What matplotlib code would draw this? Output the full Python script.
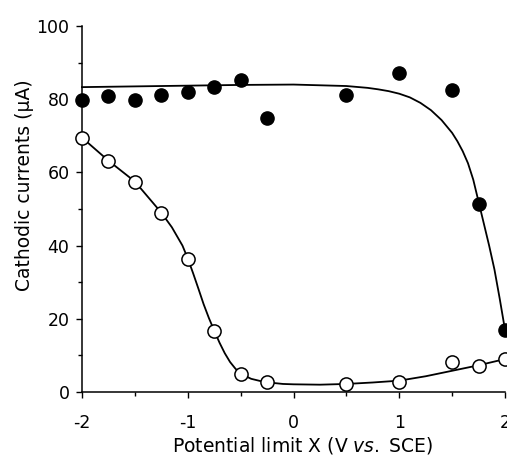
import matplotlib
matplotlib.use("Agg")
import matplotlib.pyplot as plt
from matplotlib.ticker import MultipleLocator

plt.rcParams['font.family'] = ['DejaVu Sans']

# Filled circles (data)
x_filled = [-2.0, -1.75, -1.5, -1.25, -1.0, -0.75, -0.5, -0.25, 0.5, 1.0, 1.5, 1.75, 2.0]
y_filled = [79.8, 80.9, 79.8, 81.1, 82.1, 83.2, 85.2, 74.8, 81.1, 87.2, 82.5, 51.5, 16.9]

# Open circles (data)
x_open = [-2.0, -1.75, -1.5, -1.25, -1.0, -0.75, -0.5, -0.25, 0.5, 1.0, 1.5, 1.75, 2.0]
y_open = [69.4, 63.1, 57.5, 49.0, 36.4, 16.8, 4.8, 2.7, 2.2, 2.7, 8.3, 7.1, 9.0]

# Fitted curve through filled points
x_fit_filled = [-2.0, -1.5, -1.0, -0.5, 0.0, 0.5, 0.7, 0.8, 0.9, 1.0, 1.1, 1.2, 1.3, 1.4,
                1.5, 1.55, 1.6, 1.65, 1.7, 1.75, 1.8, 1.85, 1.9, 1.95, 2.0]
y_fit_filled = [83.3, 83.5, 83.7, 83.9, 84.0, 83.6, 83.1, 82.7, 82.2, 81.5, 80.5, 79.0, 77.0,
                74.3, 70.8, 68.5, 65.8, 62.5, 58.0, 52.0, 46.0, 40.0, 33.5, 25.5, 17.0]

# Fitted curve through open points
x_fit_open = [-2.0, -1.75, -1.5, -1.25, -1.15, -1.05, -1.0, -0.95, -0.9, -0.85, -0.8, -0.75,
              -0.7, -0.65, -0.6, -0.55, -0.5, -0.4, -0.3, -0.2, -0.1, 0.0, 0.25, 0.5,
              0.75, 1.0, 1.25, 1.5, 1.75, 2.0]
y_fit_open = [69.5, 63.2, 57.5, 49.0, 45.0, 40.0, 36.5, 32.5, 28.3, 24.0, 20.2, 16.8,
              13.5, 10.6, 8.2, 6.4, 5.0, 3.6, 2.9, 2.5, 2.2, 2.1, 2.0, 2.2,
              2.6, 3.1, 4.3, 5.8, 7.3, 9.0]

xticks = [-2, -1, 0, 1, 2]
xticklabels = ['-2', '-1', '0', '1', '2']
yticks = [0, 20, 40, 60, 80, 100]

fig = plt.figure(figsize=(5.07, 4.55), dpi=100)
ax = fig.add_axes([82/507, 1 - 392/455, (505 - 82)/507, (392 - 26)/455])

ax.plot(x_fit_filled, y_fit_filled, color='black', lw=1.3, zorder=2, clip_on=False,
        solid_joinstyle='round')
ax.plot(x_fit_open, y_fit_open, color='black', lw=1.3, zorder=2, clip_on=False,
        solid_joinstyle='round')
ax.plot(x_filled, y_filled, 'o', color='black', markersize=9.5, zorder=3, clip_on=False)
ax.plot(x_open, y_open, 'o', markerfacecolor='white', markeredgecolor='black',
        markeredgewidth=1.1, markersize=9.5, zorder=4, clip_on=False)

ax.set_xlim(-2, 2)
ax.set_ylim(0, 100)
ax.set_xticks(xticks)
ax.set_xticklabels(xticklabels)
ax.set_yticks(yticks)
ax.xaxis.set_minor_locator(MultipleLocator(0.5))
ax.yaxis.set_minor_locator(MultipleLocator(10))

for s in ['top', 'right']:
    ax.spines[s].set_visible(False)
for s in ['left', 'bottom']:
    ax.spines[s].set_linewidth(1.1)

ax.tick_params(axis='both', which='major', direction='out', length=4, width=1.0,
               labelsize=12.5)
ax.tick_params(axis='both', which='minor', direction='out', length=3, width=1.0)
ax.tick_params(axis='x', which='major', pad=12)
ax.tick_params(axis='y', which='major', pad=5)

ax.set_ylabel('Cathodic currents (μA)', fontsize=13.5)
ax.yaxis.set_label_coords(-0.113, 0.566)
ax.set_xlabel('Potential limit X (V $\\it{vs.}\\;$SCE)', fontsize=13.5)
ax.xaxis.set_label_coords(0.522, -0.118)

fig.savefig('out.png', dpi=100)
